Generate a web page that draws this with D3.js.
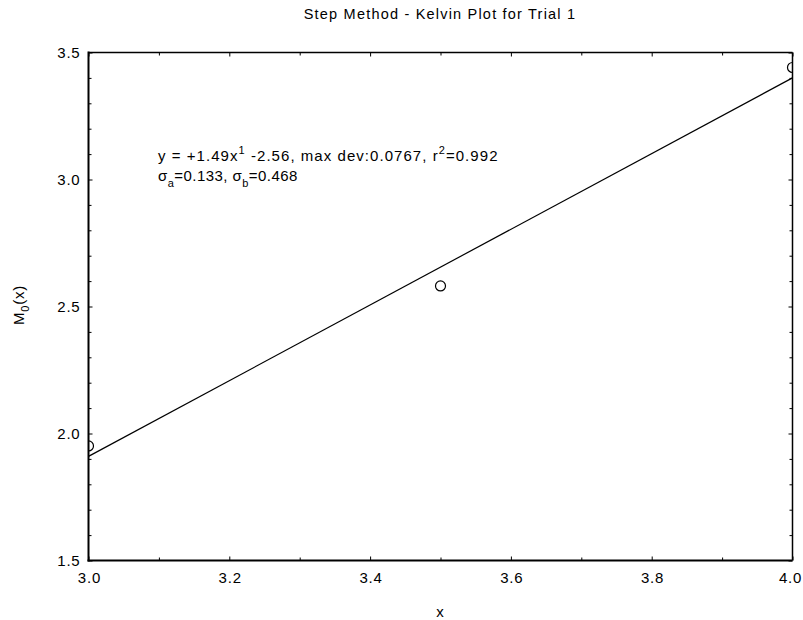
<!DOCTYPE html>
<html>
<head>
<meta charset="utf-8">
<script src="https://cdn.jsdelivr.net/npm/d3@7"></script>
<style>
  html, body { margin: 0; padding: 0; background: #fff; }
  svg { display: block; font-family: "Liberation Sans", Arial, Helvetica, sans-serif; }
</style>
</head>
<body>
<svg id="chart" width="803" height="620"></svg>
<script>
// Measured points for trial 1
const xValues = [3.0, 3.5, 4.0];
const yValues = [1.951, 2.581, 3.441];

// Least-squares fit reported in the annotation: y = a*x + b
const fitSlope = 1.49;
const fitIntercept = -2.56;

const xDomain = [3.0, 4.0];
const yDomain = [1.5, 3.5];
const xMajorTicks = [3.0, 3.2, 3.4, 3.6, 3.8, 4.0];
const xMinorTicks = [3.1, 3.3, 3.5, 3.7, 3.9];
const yMajorTicks = [1.5, 2.0, 2.5, 3.0, 3.5];
const yMinorTicks = [1.6, 1.7, 1.8, 1.9, 2.1, 2.2, 2.3, 2.4, 2.6, 2.7, 2.8, 2.9, 3.1, 3.2, 3.3, 3.4];

const titleText = "Step Method - Kelvin Plot for Trial 1";

const svg = d3.select("#chart");
const pL = 88.5, pR = 792.5, pT = 52.5, pB = 560.5;

const x = d3.scaleLinear().domain(xDomain).range([pL, pR]);
const y = d3.scaleLinear().domain(yDomain).range([pB, pT]);

// Title
svg.append("text")
  .attr("x", 440).attr("y", 19)
  .attr("text-anchor", "middle")
  .attr("font-size", 14.5)
  .attr("letter-spacing", 1.2)
  .text(titleText);

// Clip region for data marks
svg.append("defs").append("clipPath").attr("id", "plotClip")
  .append("rect")
  .attr("x", pL).attr("y", pT)
  .attr("width", pR - pL).attr("height", pB - pT);

const fmt = d3.format(".1f");

// Bottom axis: major labelled ticks, inward
const xAxisB = svg.append("g").attr("transform", `translate(0,${pB})`)
  .call(d3.axisBottom(x).tickValues(xMajorTicks).tickFormat(fmt).tickSizeInner(-4).tickSizeOuter(0).tickPadding(12));
xAxisB.append("g").call(d3.axisBottom(x).tickValues(xMinorTicks).tickFormat("").tickSizeInner(-3).tickSizeOuter(0));

// Top axis: ticks only
const xAxisT = svg.append("g").attr("transform", `translate(0,${pT})`)
  .call(d3.axisTop(x).tickValues(xMajorTicks).tickFormat("").tickSizeInner(-4).tickSizeOuter(0));
xAxisT.append("g").call(d3.axisTop(x).tickValues(xMinorTicks).tickFormat("").tickSizeInner(-3).tickSizeOuter(0));

// Left axis
const yAxisL = svg.append("g").attr("transform", `translate(${pL},0)`)
  .call(d3.axisLeft(y).tickValues(yMajorTicks).tickFormat(fmt).tickSizeInner(-4).tickSizeOuter(0).tickPadding(8));
yAxisL.append("g").call(d3.axisLeft(y).tickValues(yMinorTicks).tickFormat("").tickSizeInner(-3).tickSizeOuter(0));

// Right axis
const yAxisR = svg.append("g").attr("transform", `translate(${pR},0)`)
  .call(d3.axisRight(y).tickValues(yMajorTicks).tickFormat("").tickSizeInner(-4).tickSizeOuter(0));
yAxisR.append("g").call(d3.axisRight(y).tickValues(yMinorTicks).tickFormat("").tickSizeInner(-3).tickSizeOuter(0));

svg.selectAll(".domain").remove();
svg.selectAll(".tick line").attr("stroke", "#000").attr("stroke-width", 1);
svg.selectAll(".tick text").attr("font-size", 15).attr("fill", "#000")
  .attr("letter-spacing", 0.8)
  .attr("font-family", "'Liberation Sans', Arial, sans-serif");
// centre the x labels once letter-spacing adds its trailing gap;
// the last label is nudged left so it stays inside the page
xAxisB.selectAll(".tick text").attr("dx", d => d === xDomain[1] ? -2.5 : 0.4);

// Frame
svg.append("line").attr("x1", pL).attr("x2", pL).attr("y1", pT - 1).attr("y2", pB + 1)
  .attr("stroke", "#000").attr("stroke-width", 2);
svg.append("line").attr("x1", pL - 1).attr("x2", pR).attr("y1", pB).attr("y2", pB)
  .attr("stroke", "#000").attr("stroke-width", 2);
svg.append("line").attr("x1", pL).attr("x2", pR).attr("y1", pT).attr("y2", pT)
  .attr("stroke", "#000").attr("stroke-width", 1.5);
svg.append("line").attr("x1", pR).attr("x2", pR).attr("y1", pT).attr("y2", pB)
  .attr("stroke", "#000").attr("stroke-width", 1.5);

// Fitted line
const plot = svg.append("g").attr("clip-path", "url(#plotClip)");
plot.append("line")
  .attr("x1", x(xDomain[0])).attr("y1", y(fitSlope * xDomain[0] + fitIntercept))
  .attr("x2", x(xDomain[1])).attr("y2", y(fitSlope * xDomain[1] + fitIntercept))
  .attr("stroke", "#000").attr("stroke-width", 1.2);

// Data points
plot.selectAll("circle.pt").data(xValues.map((v, i) => [v, yValues[i]]))
  .join("circle").attr("class", "pt")
  .attr("cx", d => x(d[0])).attr("cy", d => y(d[1]))
  .attr("r", 5).attr("fill", "none").attr("stroke", "#000").attr("stroke-width", 1.2);

// Axis titles
svg.append("text").attr("x", 440).attr("y", 617)
  .attr("text-anchor", "middle").attr("font-size", 15).text("x");

const yl = svg.append("text")
  .attr("transform", "translate(24,305) rotate(-90)")
  .attr("text-anchor", "middle").attr("font-size", 15).attr("letter-spacing", 0.8);
yl.append("tspan").text("M");
yl.append("tspan").attr("font-size", 11).attr("dy", 5).text("0");
yl.append("tspan").attr("dy", -5).text("(x)");

// Fit annotation
const ann = svg.append("g").attr("font-size", 15);
const l1 = ann.append("text").attr("x", 158).attr("y", 160.5).attr("letter-spacing", 1.05);
l1.append("tspan").text("y = +1.49x");
l1.append("tspan").attr("font-size", 11).attr("dy", -7).text("1");
l1.append("tspan").attr("dy", 7).text(" -2.56, max dev:0.0767, r");
l1.append("tspan").attr("font-size", 11).attr("dy", -7).text("2");
l1.append("tspan").attr("dy", 7).text("=0.992");

const l2 = ann.append("text").attr("x", 158).attr("y", 181).attr("letter-spacing", 0.45);
l2.append("tspan").text("σ");
l2.append("tspan").attr("font-size", 11).attr("dy", 6).text("a");
l2.append("tspan").attr("dy", -6).text("=0.133, σ");
l2.append("tspan").attr("font-size", 11).attr("dy", 6).text("b");
l2.append("tspan").attr("dy", -6).text("=0.468");
</script>
</body>
</html>
